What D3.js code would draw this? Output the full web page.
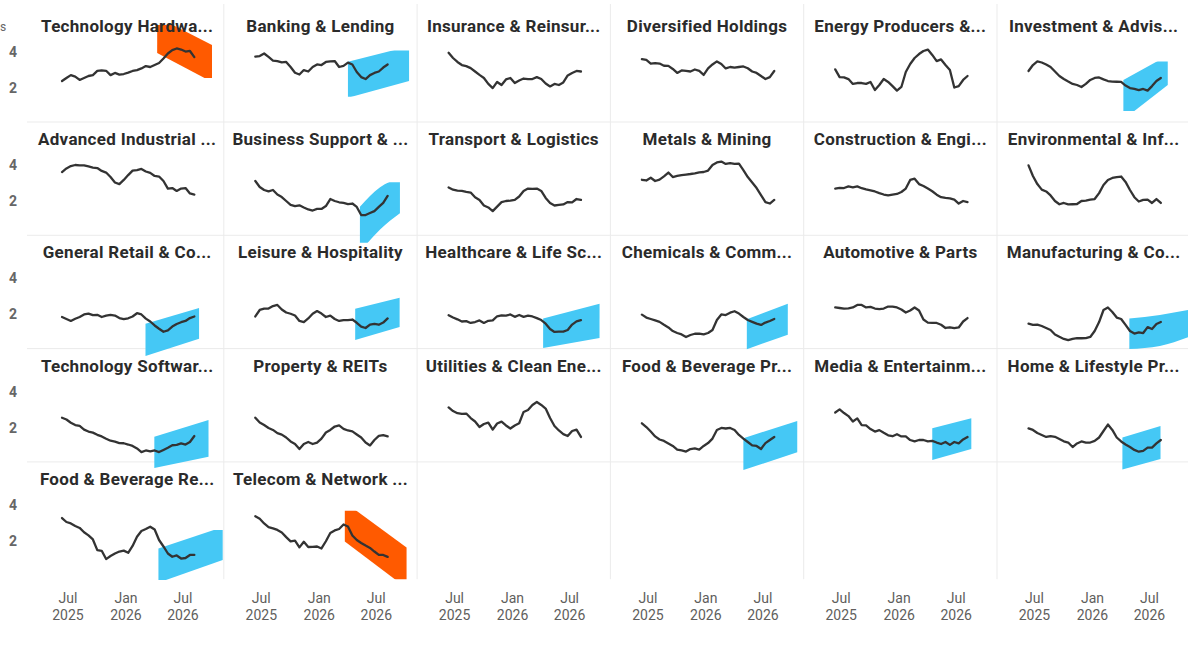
<!DOCTYPE html>
<html>
<head>
<meta charset="utf-8">
<script src="https://cdn.jsdelivr.net/npm/d3@7"></script>
<style>
  html, body { margin: 0; padding: 0; background: #fff; }
  svg { display: block; font-family: Roboto, "DejaVu Sans", sans-serif; }
</style>
</head>
<body>
<div id="chart"></div>
<script>
// Datas quinzenais das séries
const dates = ["2025-06-12", "2025-06-26", "2025-07-10", "2025-07-24", "2025-08-07", "2025-08-21",
  "2025-09-04", "2025-09-18", "2025-10-02", "2025-10-16", "2025-10-30", "2025-11-13", "2025-11-27",
  "2025-12-11", "2025-12-25", "2026-01-08", "2026-01-22", "2026-02-05", "2026-02-19", "2026-03-05",
  "2026-03-19", "2026-04-02", "2026-04-16", "2026-04-30", "2026-05-14", "2026-05-28", "2026-06-11",
  "2026-06-25", "2026-07-09", "2026-07-23", "2026-08-06"];

// Títulos dos painéis (como aparecem, já truncados)
const panelTitles = ["Technology Hardwa...", "Banking & Lending", "Insurance & Reinsur...",
  "Diversified Holdings", "Energy Producers &...", "Investment & Advis...",
  "Advanced Industrial ...", "Business Support & ...", "Transport & Logistics",
  "Metals & Mining", "Construction & Engi...", "Environmental & Inf...",
  "General Retail & Co...", "Leisure & Hospitality", "Healthcare & Life Sc...",
  "Chemicals & Comm...", "Automotive & Parts", "Manufacturing & Co...",
  "Technology Softwar...", "Property & REITs", "Utilities & Clean Ene...",
  "Food & Beverage Pr...", "Media & Entertainm...", "Home & Lifestyle Pr...",
  "Food & Beverage Re...", "Telecom & Network ..."];

// Valores de cada série, na ordem dos painéis
const seriesValues = [
  [2.37, 2.54, 2.7, 2.62, 2.43, 2.54, 2.65, 2.7, 2.93, 2.96, 2.94, 2.7, 2.82, 2.73, 2.76, 2.84, 2.93, 2.98, 3.07, 3.2, 3.15, 3.26, 3.37, 3.62, 3.9, 4.09, 4.18, 4.12, 4.01, 4.04, 3.7],
  [3.73, 3.76, 3.9, 3.71, 3.51, 3.48, 3.41, 3.43, 3.15, 2.83, 2.73, 2.98, 2.9, 3.15, 3.29, 3.26, 3.43, 3.46, 3.48, 3.15, 3.21, 3.39, 3.29, 2.87, 2.59, 2.48, 2.7, 2.82, 2.9, 3.12, 3.29],
  [3.94, 3.65, 3.43, 3.26, 3.2, 3.09, 2.9, 2.71, 2.54, 2.21, 1.98, 2.32, 2.15, 2.46, 2.54, 2.26, 2.4, 2.51, 2.48, 2.48, 2.59, 2.48, 2.23, 2.07, 2.21, 2.15, 2.29, 2.68, 2.82, 2.93, 2.9],
  [3.59, 3.54, 3.34, 3.37, 3.34, 3.22, 3.21, 3.04, 2.82, 2.96, 2.93, 2.9, 3.01, 2.93, 2.71, 3.07, 3.29, 3.46, 3.32, 3.07, 3.15, 3.11, 3.15, 3.18, 3.08, 2.9, 2.82, 2.65, 2.48, 2.59, 2.93],
  [3.02, 2.59, 2.57, 2.48, 2.21, 2.26, 2.26, 2.21, 2.32, 1.87, 2.15, 2.48, 2.32, 2.09, 1.84, 2.04, 2.87, 3.32, 3.65, 3.87, 4.04, 4.12, 3.82, 3.48, 3.57, 3.26, 2.98, 2.01, 2.09, 2.43, 2.65],
  [2.93, 3.26, 3.46, 3.4, 3.29, 3.15, 2.9, 2.65, 2.48, 2.34, 2.21, 2.15, 2.04, 2.21, 2.43, 2.54, 2.57, 2.46, 2.37, 2.34, 2.33, 2.32, 2.12, 1.98, 1.93, 1.87, 1.93, 1.84, 2.09, 2.37, 2.54],
  [3.61, 3.81, 3.94, 4.0, 3.98, 3.98, 3.92, 3.86, 3.83, 3.67, 3.58, 3.33, 3.03, 2.94, 3.17, 3.44, 3.69, 3.72, 3.78, 3.64, 3.56, 3.39, 3.36, 3.11, 2.69, 2.72, 2.56, 2.69, 2.72, 2.42, 2.36],
  [3.11, 2.78, 2.61, 2.53, 2.61, 2.36, 2.22, 2.0, 1.78, 1.71, 1.76, 1.64, 1.53, 1.47, 1.56, 1.56, 1.72, 2.11, 2.0, 1.93, 1.89, 1.83, 1.86, 1.67, 1.22, 1.22, 1.33, 1.44, 1.67, 1.89, 2.28],
  [2.75, 2.63, 2.58, 2.56, 2.51, 2.47, 2.21, 2.06, 1.75, 1.64, 1.44, 1.69, 1.94, 2.0, 2.02, 2.06, 2.25, 2.56, 2.69, 2.67, 2.69, 2.56, 2.17, 1.89, 1.75, 1.78, 1.81, 1.94, 1.92, 2.11, 2.06],
  [3.18, 3.14, 3.29, 3.11, 3.19, 3.37, 3.58, 3.33, 3.39, 3.44, 3.47, 3.5, 3.54, 3.59, 3.61, 3.69, 4.0, 4.14, 4.19, 4.06, 4.1, 4.06, 4.08, 3.72, 3.33, 3.03, 2.72, 2.33, 1.94, 1.86, 2.06],
  [2.69, 2.73, 2.72, 2.81, 2.76, 2.81, 2.71, 2.64, 2.59, 2.53, 2.44, 2.36, 2.31, 2.36, 2.39, 2.5, 2.69, 3.17, 3.24, 2.94, 2.83, 2.69, 2.54, 2.35, 2.21, 2.17, 2.15, 2.08, 1.86, 2.0, 1.94],
  [3.98, 3.39, 2.94, 2.63, 2.53, 2.31, 2.0, 1.82, 1.89, 1.81, 1.82, 1.83, 2.0, 2.02, 2.07, 2.11, 2.44, 2.89, 3.17, 3.28, 3.33, 3.36, 3.06, 2.61, 2.21, 1.97, 2.06, 2.08, 1.89, 2.11, 1.89],
  [1.85, 1.74, 1.63, 1.75, 1.85, 1.99, 2.04, 1.95, 1.97, 1.85, 1.93, 1.97, 1.93, 1.79, 1.73, 1.78, 1.88, 2.06, 1.99, 1.76, 1.6, 1.38, 1.2, 1.03, 1.11, 1.32, 1.46, 1.56, 1.63, 1.79, 1.88],
  [1.88, 2.24, 2.31, 2.32, 2.46, 2.52, 2.27, 2.1, 2.03, 1.93, 1.63, 1.57, 1.77, 2.03, 2.18, 2.04, 1.85, 1.93, 1.74, 1.63, 1.68, 1.68, 1.71, 1.53, 1.32, 1.24, 1.43, 1.47, 1.42, 1.54, 1.77],
  [1.95, 1.82, 1.72, 1.6, 1.62, 1.52, 1.57, 1.66, 1.52, 1.64, 1.66, 1.89, 1.94, 1.93, 1.99, 1.86, 1.96, 1.86, 1.92, 1.88, 1.79, 1.68, 1.48, 1.18, 1.02, 1.04, 1.04, 1.13, 1.43, 1.61, 1.68],
  [1.98, 1.82, 1.74, 1.66, 1.58, 1.42, 1.27, 1.07, 0.96, 0.88, 0.74, 0.85, 0.92, 0.93, 0.88, 0.96, 1.13, 1.68, 1.99, 1.96, 2.09, 2.17, 2.04, 1.85, 1.68, 1.58, 1.48, 1.41, 1.54, 1.63, 1.74],
  [2.38, 2.35, 2.32, 2.33, 2.38, 2.52, 2.52, 2.38, 2.41, 2.32, 2.29, 2.32, 2.43, 2.43, 2.38, 2.27, 2.1, 2.21, 2.38, 2.21, 1.71, 1.54, 1.52, 1.52, 1.42, 1.24, 1.28, 1.23, 1.27, 1.6, 1.79],
  [1.48, 1.41, 1.43, 1.35, 1.24, 1.13, 0.88, 0.75, 0.63, 0.56, 0.63, 0.67, 0.67, 0.68, 0.74, 1.07, 1.57, 2.24, 2.38, 2.13, 1.82, 1.74, 1.41, 1.07, 0.93, 0.99, 0.96, 1.29, 1.18, 1.46, 1.57],
  [2.55, 2.45, 2.27, 2.14, 2.09, 1.89, 1.78, 1.72, 1.6, 1.51, 1.38, 1.27, 1.22, 1.14, 1.13, 1.06, 0.98, 0.84, 0.64, 0.73, 0.68, 0.73, 0.64, 0.76, 0.88, 1.02, 1.04, 1.12, 1.06, 1.2, 1.53],
  [2.55, 2.28, 2.14, 1.98, 1.87, 1.69, 1.61, 1.45, 1.23, 1.09, 0.81, 1.09, 1.2, 1.09, 1.17, 1.39, 1.73, 1.87, 2.06, 2.12, 1.93, 1.84, 1.79, 1.62, 1.45, 1.17, 1.01, 1.31, 1.54, 1.58, 1.51],
  [3.12, 2.92, 2.8, 2.76, 2.78, 2.53, 2.34, 2.03, 2.2, 2.28, 1.89, 2.23, 2.33, 2.12, 1.95, 2.12, 2.24, 2.87, 2.98, 3.26, 3.42, 3.26, 3.06, 2.53, 2.09, 1.84, 1.64, 1.53, 1.81, 1.89, 1.48],
  [2.24, 2.03, 1.78, 1.51, 1.34, 1.26, 1.12, 0.98, 0.78, 0.73, 0.67, 0.81, 0.84, 0.78, 0.98, 1.14, 1.39, 1.87, 1.98, 1.95, 1.98, 1.87, 1.59, 1.39, 1.2, 1.01, 0.98, 0.81, 1.14, 1.31, 1.48],
  [2.84, 3.01, 2.81, 2.64, 2.34, 2.51, 2.14, 2.12, 1.92, 1.78, 1.86, 1.71, 1.57, 1.52, 1.63, 1.51, 1.51, 1.31, 1.23, 1.31, 1.31, 1.23, 1.26, 1.17, 1.09, 1.2, 1.04, 1.2, 1.12, 1.34, 1.48],
  [1.96, 1.87, 1.7, 1.59, 1.48, 1.53, 1.49, 1.37, 1.24, 1.17, 0.92, 1.12, 1.23, 1.17, 1.17, 1.26, 1.45, 1.81, 2.17, 1.87, 1.45, 1.23, 1.06, 0.92, 0.76, 0.66, 0.71, 0.89, 0.89, 1.12, 1.31],
  [3.27, 3.05, 2.97, 2.83, 2.72, 2.48, 2.31, 2.08, 1.49, 1.45, 0.99, 1.16, 1.3, 1.41, 1.46, 1.34, 1.72, 2.23, 2.55, 2.66, 2.79, 2.63, 2.05, 1.69, 1.3, 1.12, 1.19, 1.02, 1.05, 1.22, 1.22],
  [3.37, 3.23, 2.97, 2.77, 2.7, 2.61, 2.47, 2.21, 1.97, 2.02, 1.64, 1.95, 1.66, 1.67, 1.69, 1.58, 1.98, 2.44, 2.58, 2.66, 2.91, 2.8, 2.3, 2.05, 1.88, 1.74, 1.61, 1.41, 1.22, 1.22, 1.11]
];

// Faixas de tendência: painel, datas, limites superior/inferior, recorte e direção
const bandPanel = [0, 1, 5, 7, 12, 13, 14, 15, 17, 18, 21, 22, 23, 24, 25];
const bandDates = [
  ["2026-04-10", "2026-10-01"], ["2026-04-02", "2026-10-13"], ["2026-04-09", "2026-08-28"],
  ["2026-05-10", "2026-07-13", "2026-09-14"], ["2026-03-04", "2026-08-21"], ["2026-04-25", "2026-09-13"],
  ["2026-04-08", "2026-10-04"], ["2026-05-11", "2026-09-18"], ["2026-04-28", "2026-08-03", "2026-11-02"],
  ["2026-04-01", "2026-09-20"], ["2026-04-30", "2026-10-18"], ["2026-04-16", "2026-08-18"],
  ["2026-04-06", "2026-08-05"], ["2026-04-14", "2026-11-04"], ["2026-03-23", "2026-10-05"]];
const bandHigh = [[5.93, 4.37], [3.44, 4.3], [2.43, 3.79], [1.68, 2.76, 3.28], [1.48, 2.35], [2.31, 2.92],
  [1.76, 2.59], [1.72, 2.59], [1.76, 1.96, 2.24], [1.49, 2.42], [1.41, 2.37], [1.96, 2.52],
  [1.45, 2.09], [1.58, 2.77], [4.15, 1.64]];
const bandLow = [[3.93, 2.32], [1.44, 2.37], [0.23, 2.15], [-0.83, 0.42, 1.32], [-0.32, 0.64], [0.57, 1.29],
  [0.13, 0.68], [0.06, 0.87], [0.07, 0.24, 0.74], [-0.24, 0.38], [-0.36, 0.63], [0.2, 0.81],
  [-0.33, 0.26], [-0.32, 0.94], [1.96, -0.62]];
const bandClip = [[2.54, 5.48], [1.5, 4.06], [0.71, 3.46], [-0.32, 3.04], null, null,
  null, null, null, null, null, null, null, [-0.17, 2.6], [-0.13, 3.68]];
const bandTrend = ["down", "up", "up", "up", "up", "up", "up", "up", "up", "up", "up", "up", "up", "up", "down"];

// Marcas dos eixos
const xTickDates = ["2025-07-01", "2026-01-01", "2026-07-01"];
const xTickLabels = [["Jul", "2025"], ["Jan", "2026"], ["Jul", "2026"]];
const yTicks = [2, 4];

const width = 1188, height = 648;
const nCols = 6, nRows = 5;
const gridLeft = 30.5, gridTop = 8.7, colW = 193.3, rowH = 113.3;
const bandColors = { up: "#45c8f5", down: "#ff5a00" };

const parseDate = d3.timeParse("%Y-%m-%d");

// Escalas locais de cada painel
const x = d3.scaleTime()
    .domain([parseDate("2025-07-01"), parseDate("2026-07-01")])
    .range([37.5, 152.5]);
const y = d3.scaleLinear().domain([0, 4]).range([115, 43]);

const svg = d3.select("#chart").append("svg")
    .attr("width", width)
    .attr("height", height)
    .attr("viewBox", `0 0 ${width} ${height}`);

// Resto visível do título do eixo y
svg.append("text")
    .attr("x", 0).attr("y", 31)
    .attr("fill", "#666")
    .style("font-size", "12px")
    .text("s");

// Linhas separadoras da grade
const grid = svg.append("g").attr("stroke", "#ebebeb").attr("stroke-width", 1);
d3.range(1, nCols).forEach(c => {
    grid.append("line")
        .attr("x1", gridLeft + c * colW).attr("x2", gridLeft + c * colW)
        .attr("y1", 4).attr("y2", gridTop + nRows * rowH + 4);
});
d3.range(1, nRows).forEach(r => {
    grid.append("line")
        .attr("x1", 27).attr("x2", width)
        .attr("y1", gridTop + r * rowH).attr("y2", gridTop + r * rowH);
});

const defs = svg.append("defs");

// Um grupo por painel
const panels = svg.selectAll(".panel")
    .data(panelTitles)
    .join("g")
    .attr("class", "panel")
    .attr("transform", (d, i) => `translate(${gridLeft + (i % nCols) * colW},${gridTop + Math.floor(i / nCols) * rowH})`);

const bandLayer = panels.append("g").attr("class", "bands");
const lineLayer = panels.append("g").attr("class", "lines");
const titleLayer = panels.append("g").attr("class", "titles");

// Desenha as faixas de tendência
const area = d3.area()
    .x(d => x(d.date))
    .y0(d => y(d.lo))
    .y1(d => y(d.hi))
    .curve(d3.curveMonotoneX);

bandPanel.forEach((p, b) => {
    const pts = bandDates[b].map((s, k) => ({ date: parseDate(s), lo: bandLow[b][k], hi: bandHigh[b][k] }));
    const g = d3.select(bandLayer.nodes()[p]);
    const path = g.append("path")
        .attr("d", area(pts))
        .attr("fill", bandColors[bandTrend[b]]);
    if (bandClip[b]) {
        // o recorte usa o sistema do painel
        const id = "band-clip-" + b;
        defs.append("clipPath").attr("id", id)
            .append("rect")
            .attr("x", -50).attr("width", colW + 100)
            .attr("y", y(bandClip[b][1]))
            .attr("height", y(bandClip[b][0]) - y(bandClip[b][1]));
        path.attr("clip-path", `url(#${id})`);
    }
});

// Desenha as linhas das séries
const line = d3.line()
    .x(d => x(d.date))
    .y(d => y(d.value));

lineLayer.append("path")
    .attr("d", (d, i) => line(seriesValues[i].map((v, k) => ({ date: parseDate(dates[k]), value: v }))))
    .attr("fill", "none")
    .attr("stroke", "#333")
    .attr("stroke-width", 2.3)
    .attr("stroke-linejoin", "round")
    .attr("stroke-linecap", "round");

// Títulos dos painéis
titleLayer.append("text")
    .attr("x", colW / 2)
    .attr("y", 23)
    .attr("text-anchor", "middle")
    .attr("fill", "#2b2b2b")
    .style("font-size", "17px")
    .style("letter-spacing", "0.3px")
    .style("font-weight", 700)
    .text(d => d);

// Rótulos do eixo y na primeira coluna
d3.range(nRows).forEach(r => {
    svg.append("g")
        .attr("transform", `translate(0,${gridTop + r * rowH})`)
        .selectAll("text")
        .data(yTicks)
        .join("text")
        .attr("x", 17)
        .attr("y", d => y(d))
        .attr("dy", "0.36em")
        .attr("text-anchor", "end")
        .attr("fill", "#666")
        .style("font-size", "14px")
        .style("font-weight", 700)
        .text(d => d);
});

// Rótulos do eixo x embaixo de cada coluna
d3.range(nCols).forEach(c => {
    const g = svg.append("g").attr("transform", `translate(${gridLeft + c * colW},0)`);
    const ticks = g.selectAll("text")
        .data(xTickDates)
        .join("text")
        .attr("x", d => x(parseDate(d)))
        .attr("text-anchor", "middle")
        .attr("fill", "#605e5c")
        .style("font-size", "14px");
    ticks.append("tspan").attr("x", d => x(parseDate(d))).attr("y", 603).text((d, i) => xTickLabels[i][0]);
    ticks.append("tspan").attr("x", d => x(parseDate(d))).attr("y", 620).text((d, i) => xTickLabels[i][1]);
});
</script>
</body>
</html>
